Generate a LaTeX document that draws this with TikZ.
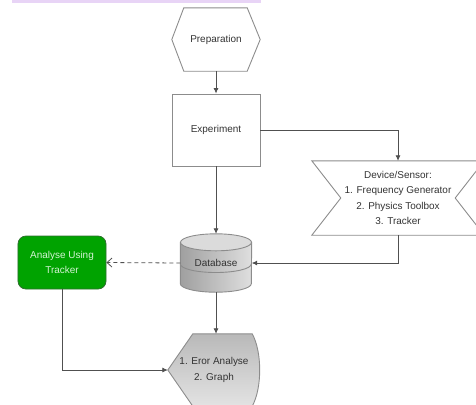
\documentclass[tikz,border=0pt]{standalone}
\usepackage{fontspec}
\setmainfont{Liberation Sans}
\usetikzlibrary{arrows.meta,positioning,calc,backgrounds}
\definecolor{linegray}{HTML}{505050}
\definecolor{bordergray}{HTML}{8C8C8C}
\definecolor{textgray}{HTML}{333333}
\definecolor{trackgreen}{HTML}{00A300}
\definecolor{trackborder}{HTML}{2F6F2F}
\definecolor{trackfont}{HTML}{D2F2D2}
\definecolor{barlilac}{HTML}{E8D4F6}
\tikzset{
  % box nodes only carry the text and the anchors, outlines are drawn round them
  box/.style={rectangle, inner sep=0pt, align=center, text=textgray,
  font=\fontsize{10}{15.3}\selectfont},
  outline/.style={draw=bordergray, line width=0.9bp},
  flow/.style={draw=linegray, line width=0.8bp, ->}}

\begin{document}
\begin{tikzpicture}[x=1bp, y=1bp,
    >={Latex[length=5.5bp,width=5bp]}, % small filled tips
    ]
\useasboundingbox (0,0) rectangle (476,-404);

\fill [barlilac] (12,0) rectangle (261,-2.5);

\node (prep) [box, minimum width=88bp, minimum height=63bp] at (216,-39.5) {Preparation};
\draw [outline] (prep.west) -- ($(prep.north west)+(12,0)$) -- ($(prep.north east)+(-13,0)$)
  -- (prep.east) -- ($(prep.south east)+(-13,0)$) -- ($(prep.south west)+(12,0)$) -- cycle;

\node (exper) [box, outline, minimum width=88bp, minimum height=72bp] at (216,-130) {Experiment};

\node (device) [box, minimum width=172bp, minimum height=74bp] at (398,-198)
{Device/Sensor:\\1. Frequency Generator\\2. Physics Toolbox\\3. Tracker};
\draw [outline] (device.north west) -- (device.north east) -- ($(device.east)+(-29,0)$)
  -- (device.south east) -- (device.south west) -- ($(device.west)+(29,0)$) -- cycle;

\node (db) [box, minimum width=71bp, minimum height=58bp] at (216,-263) {Database};

\node (track) [box, draw=trackborder, line width=0.8bp, fill=trackgreen, text=trackfont,
  rounded corners=8bp, minimum width=88bp, minimum height=53bp] at (62,-262.5)
{Analyse Using\\Tracker};

\node (err) [box, minimum width=92bp, minimum height=72bp] at (214,-370)
{1. Eror Analyse\\2. Graph};

\begin{scope}[on background layer]
% cylinder for the database
\path [outline, left color=gray!75, right color=gray!25]
  ($(db.north west)+(0,-8.5)$) -- ($(db.south west)+(0,8.5)$)
  arc [start angle=180, end angle=360, x radius=35.5, y radius=8.5]
  -- ($(db.north east)+(0,-8.5)$) -- cycle;
\draw [outline] ($(db.west)+(0,-1)$) arc [start angle=180, end angle=360, x radius=35.5, y radius=8.5];
\draw [outline, fill=gray!28] ($(db.north)+(0,-8.5)$) ellipse [x radius=35.5, y radius=8.5];
% display shape for the results
\path [outline, top color=gray!55, bottom color=gray!22]
  ($(err.north west)+(25,0)$) -- ($(err.north east)+(-8,0)$)
  .. controls ($(err.north east)+(2,-18)$) and ($(err.south east)+(2,18)$) .. ($(err.south east)+(-8,0)$)
  -- ($(err.south west)+(25,0)$) -- (err.west) -- cycle;
\end{scope}

\draw [flow] (prep) -- (exper);
\draw [flow] (exper.east) -| (device.north);
\draw [flow] (exper.south) -- (db.north);
\draw [flow] (device.south) |- (db.east);
\draw [flow, dashed, dash pattern=on 4bp off 3bp, -{Straight Barb[length=5bp,width=9bp]}] (db.west) -- (track.east);
\draw [flow] (track.south) |- (err.west);
\draw [flow] (db.south) -- (db.south |- err.north);

\end{tikzpicture}
\end{document}
